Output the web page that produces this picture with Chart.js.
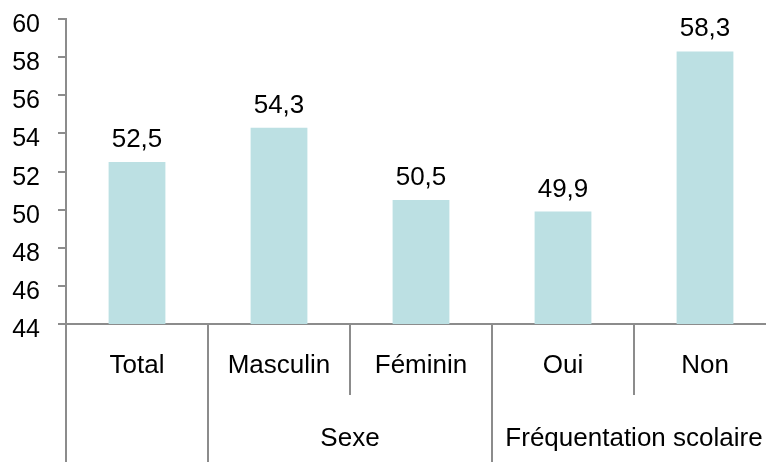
<!DOCTYPE html>
<html>
<head>
<meta charset="utf-8">
<script src="https://cdn.jsdelivr.net/npm/chart.js@4"></script>
<style>
  html, body { margin: 0; padding: 0; background: #fff; overflow: hidden; }
  #wrap { width: 780px; height: 462px; }
</style>
</head>
<body>
<div id="wrap"><canvas id="chart" width="780" height="462"></canvas></div>
<script>
    // values
    var categories = ['Total', 'Masculin', 'Féminin', 'Oui', 'Non'];
    var groups = ['', 'Sexe', 'Sexe', 'Fréquentation scolaire', 'Fréquentation scolaire'];
    var values = [52.5, 54.3, 50.5, 49.9, 58.3];
    var yMin = 44, yMax = 60, yStep = 2;

    var FONT = "'Liberation Sans', Arial, sans-serif";
    var GREY = '#8c8c8c';

    // value labels above the bars (french decimal comma) and y tick labels
    var valueLabels = {
        id: 'valueLabels',
        afterDatasetsDraw: function (chart) {
            var ctx = chart.ctx;
            var meta = chart.getDatasetMeta(0);
            ctx.save();
            ctx.font = '26px ' + FONT;
            ctx.fillStyle = '#000';
            ctx.textAlign = 'center';
            ctx.textBaseline = 'alphabetic';
            meta.data.forEach(function (bar, i) {
                ctx.fillText(values[i].toFixed(1).replace('.', ','), bar.x, bar.y - 15);
            });
            var y = chart.scales.y;
            ctx.font = '25px ' + FONT;
            ctx.textAlign = 'right';
            y.ticks.forEach(function (t) {
                ctx.fillText(String(t.value), 40, y.getPixelForValue(t.value) + 13);
            });
            ctx.restore();
        }
    };

    // two-level category axis drawn under the plot
    var groupAxis = {
        id: 'groupAxis',
        afterDraw: function (chart) {
            var ctx = chart.ctx;
            var x = chart.scales.x;
            var area = chart.chartArea;
            var bottom = chart.height;
            var step = x.getPixelForValue(1) - x.getPixelForValue(0);
            var rowLine = area.bottom + 71;
            ctx.save();
            ctx.strokeStyle = GREY;
            ctx.lineWidth = 2;
            // left edge of the table
            ctx.beginPath();
            ctx.moveTo(area.left, area.bottom);
            ctx.lineTo(area.left, bottom);
            ctx.stroke();
            ctx.font = '26px ' + FONT;
            ctx.fillStyle = '#000';
            ctx.textAlign = 'center';
            ctx.textBaseline = 'alphabetic';
            categories.forEach(function (c, i) {
                var cx = x.getPixelForValue(i);
                ctx.fillText(c, cx, area.bottom + 49);
                if (i > 0) {
                    var lx = cx - step / 2;
                    var newGroup = groups[i] !== groups[i - 1];
                    ctx.beginPath();
                    ctx.moveTo(lx, area.bottom);
                    ctx.lineTo(lx, newGroup ? bottom : rowLine);
                    ctx.stroke();
                }
            });
            // group labels centred over their categories
            var start = 0;
            for (var i = 1; i <= groups.length; i++) {
                if (i === groups.length || groups[i] !== groups[start]) {
                    if (groups[start]) {
                        var a = x.getPixelForValue(start) - step / 2;
                        var b = x.getPixelForValue(i - 1) + step / 2;
                        ctx.fillText(groups[start], (a + b) / 2, area.bottom + 122);
                    }
                    start = i;
                }
            }
            ctx.restore();
        }
    };

    var ctx = document.getElementById('chart').getContext('2d');
    var chart = new Chart(ctx, {
        type: 'bar',
        data: {
            labels: categories,
            datasets: [{
                data: values,
                backgroundColor: '#bce0e3',
                borderWidth: 0,
                barPercentage: 0.4,
                categoryPercentage: 1
            }]
        },
        options: {
            responsive: false,
            animation: false,
            layout: { padding: { top: 19, right: 4, left: 0, bottom: 0 } },
            plugins: {
                legend: { display: false },
                tooltip: { enabled: false }
            },
            scales: {
                x: {
                    grid: { display: false },
                    ticks: { display: false },
                    border: { display: true, color: GREY, width: 2 },
                    afterFit: function (scale) { scale.height = 138; }
                },
                y: {
                    min: yMin,
                    max: yMax,
                    ticks: {
                        stepSize: yStep,
                        color: 'rgba(0,0,0,0)',
                        font: { family: FONT, size: 2 },
                        padding: 16
                    },
                    grid: { drawOnChartArea: false, drawTicks: true, tickLength: 8, color: GREY, lineWidth: 2 },
                    border: { display: true, color: GREY, width: 2 },
                    afterFit: function (scale) { scale.width = 66; }
                }
            }
        },
        plugins: [valueLabels, groupAxis]
    });
</script>
</body>
</html>
